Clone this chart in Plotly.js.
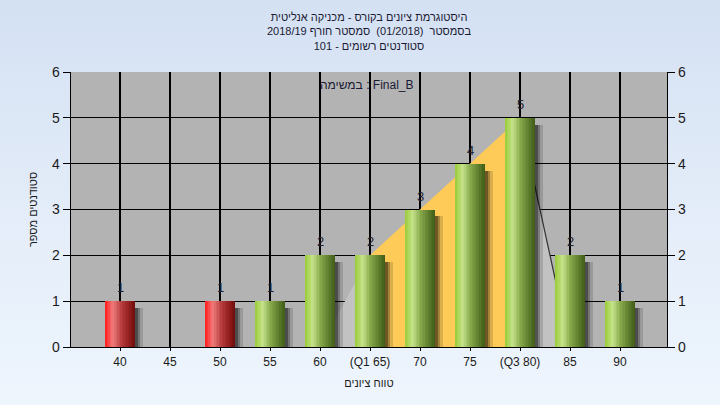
<!DOCTYPE html>
<html>
<head>
<meta charset="utf-8">
<script src="https://cdn.plot.ly/plotly-3.0.1.min.js"></script>
<style>
  html, body { margin: 0; padding: 0; }
  body { width: 720px; height: 405px; background: linear-gradient(to bottom, #d4e1f3 0%, #e4edf9 55%, #eef5fd 100%); }
  #chart { width: 720px; height: 405px; }
</style>
</head>
<body>
<div id="chart"></div>
<script>
// ---- data ----
const categories = ['40', '45', '50', '55', '60', '(Q1 65)', '70', '75', '(Q3 80)', '85', '90'];
const counts = [1, 0, 1, 1, 2, 2, 3, 4, 5, 2, 1];
const barGroup = ['fail', 'fail', 'fail', 'pass', 'pass', 'pass', 'pass', 'pass', 'pass', 'pass', 'pass'];
const curveValues = [null, null, null, null, 0, 2, 3, 4, 5, 0, null];
const q1Index = 5;
const q3Index = 8;
const yTicks = [0, 1, 2, 3, 4, 5, 6];

// visual word order left-to-right; each Hebrew word keeps its own right-to-left letters
const HEB = /[\u0590-\u05FF]/;
const vis = words => '\u202A' + words.map(w => HEB.test(w) ? '\u202B' + w + '\u202C' : w).join(' ') + '\u202C';
const titleLines = [
  vis(['היסטוגרמת', 'ציונים', 'בקורס', '-', 'מכניקה', 'אנליטית']),
  vis(['בסמסטר', ' (01/2018) ', 'סמסטר', 'חורף', '2018/19']),
  vis(['סטודנטים', 'רשומים', '-', '101'])
];
const xTitle = vis(['טווח', 'ציונים']);
const yTitle = vis(['סטודנטים', 'מספר']);
const taskLabel = vis(['במשימה', ':', 'Final_B']);

// ---- helpers ----
const idx = categories.map((_, i) => i);
function hex(c) { return [parseInt(c.slice(1,3),16), parseInt(c.slice(3,5),16), parseInt(c.slice(5,7),16)]; }
function lerpStops(stops, t) {
  for (let i = 0; i < stops.length - 1; i++) {
    const [t0, c0] = stops[i], [t1, c1] = stops[i+1];
    if (t >= t0 && t <= t1) {
      const f = (t - t0) / (t1 - t0);
      const a = hex(c0), b = hex(c1);
      return 'rgb(' + a.map((v, k) => Math.round(v + (b[k] - v) * f)).join(',') + ')';
    }
  }
  return stops[stops.length-1][1];
}
const gradients = {
  pass: [[0, '#9ccc3a'], [0.25, '#c6e28c'], [0.5, '#88aa4c'], [0.8, '#5a7a2a'], [1, '#3f5a18']],
  fail: [[0, '#ff1c1c'], [0.25, '#f07c7c'], [0.55, '#b43a3a'], [0.85, '#8a1818'], [1, '#6a0c0c']]
};

const traces = [];
// background curve (area) on the base subplot
function segment(i0, i1, color, line) {
  const xs = [], ys = [];
  for (let i = i0; i <= i1; i++) { xs.push(i); ys.push(curveValues[i]); }
  traces.push({ type: 'scatter', x: xs, y: ys, mode: 'lines', fill: 'tozeroy', fillcolor: color,
    line: line || { width: 0, color: color }, hoverinfo: 'skip', showlegend: false, xaxis: 'x', yaxis: 'y' });
}
const firstCurve = curveValues.findIndex(v => v !== null);
let lastCurve = curveValues.length - 1; while (curveValues[lastCurve] === null) lastCurve--;
segment(firstCurve, q1Index, '#c2c2c2');
segment(q1Index, q3Index, '#fecb58');
segment(q3Index, lastCurve, '#c2c2c2', { width: 1.2, color: '#333333' });

// shadows (overlay subplot)
const BW = 0.6;
const shadowLayers = [[0.15, 0.14], [0.10, 0.24], [0.05, 0.34]];
shadowLayers.forEach(([ext, alpha]) => {
  traces.push({ type: 'bar', x: idx, y: counts.map(v => Math.max(v - 0.15, 0)), offset: 0, width: BW / 2 + ext,
    marker: { color: 'rgba(0,0,0,' + alpha + ')', line: { width: 0 } }, hoverinfo: 'skip', showlegend: false, xaxis: 'x2', yaxis: 'y2' });
});

// cylinder bars as strips
const N = 20;
for (let k = 0; k < N; k++) {
  const t = (k + 0.5) / N;
  traces.push({ type: 'bar', x: idx, y: counts, offset: -BW/2 + k * BW / N, width: BW / N + 0.004,
    marker: { color: barGroup.map(g => lerpStops(gradients[g], t)), line: { width: 0 } },
    hoverinfo: k === 0 ? 'x+y' : 'skip', showlegend: false, xaxis: 'x2', yaxis: 'y2' });
}

const font = 'Liberation Sans, Arial, sans-serif';
// value labels
const labelAnn = [];
counts.forEach((v, i) => {
  if (v > 0) labelAnn.push({ x: i, y: v, xref: 'x2', yref: 'y2', text: String(v), showarrow: false,
    xanchor: 'center', yanchor: 'bottom', yshift: 4, font: { family: font, size: 13, color: '#222233' } });
});

const layout = {
  width: 720, height: 405,
  paper_bgcolor: 'rgba(0,0,0,0)',
  plot_bgcolor: '#b3b3b3',
  margin: { l: 71, r: 53, t: 72, b: 58 },
  barmode: 'overlay',
  bargap: 0,
  showlegend: false,
  title: { text: titleLines.join('<br>'), x: 0.5, xref: 'paper', xanchor: 'center', yref: 'container', y: 0.948, yanchor: 'top',
    font: { family: font, size: 11, color: '#1a1a33' } },
  xaxis: {
    range: [-0.98, 10.94], tickmode: 'array', tickvals: idx, ticktext: categories,
    showgrid: true, gridcolor: '#000000', gridwidth: 1.3,
    showline: true, linecolor: '#000000', linewidth: 1.3,
    ticks: 'outside', ticklen: 3, tickcolor: '#000000', tickwidth: 1,
    tickfont: { family: font, size: 12, color: '#1a1a1a' },
    zeroline: false, fixedrange: true,
    title: { text: xTitle, font: { family: font, size: 11, color: '#1a1a1a' }, standoff: 11 }
  },
  xaxis2: { overlaying: 'x', range: [-0.98, 10.94], visible: false, fixedrange: true },
  yaxis: {
    range: [0, 6], tickvals: yTicks,
    showgrid: true, gridcolor: '#000000', gridwidth: 1.3,
    showline: true, linecolor: '#000000', linewidth: 1.3,
    ticks: 'outside', ticklen: 7, tickcolor: '#000000',
    tickfont: { family: font, size: 14, color: '#1a1a1a' },
    zeroline: false, fixedrange: true,
    title: { text: yTitle, font: { family: font, size: 11, color: '#1a1a1a' }, standoff: 12 }
  },
  yaxis2: {
    overlaying: 'y', side: 'right', range: [0, 6], tickvals: yTicks,
    showgrid: false, showline: true, linecolor: '#000000', linewidth: 1.3,
    ticks: 'outside', ticklen: 7, tickcolor: '#000000',
    tickfont: { family: font, size: 14, color: '#1a1a1a' },
    zeroline: false, fixedrange: true
  },
  annotations: [{
    text: taskLabel, xref: 'paper', yref: 'paper', x: 0.497, y: 0.953, showarrow: false,
    xanchor: 'center', yanchor: 'middle', font: { family: font, size: 12, color: '#1a1a33' }
  }].concat(labelAnn)
};

Plotly.newPlot('chart', traces, layout, { displayModeBar: false, staticPlot: true });
</script>
</body>
</html>
